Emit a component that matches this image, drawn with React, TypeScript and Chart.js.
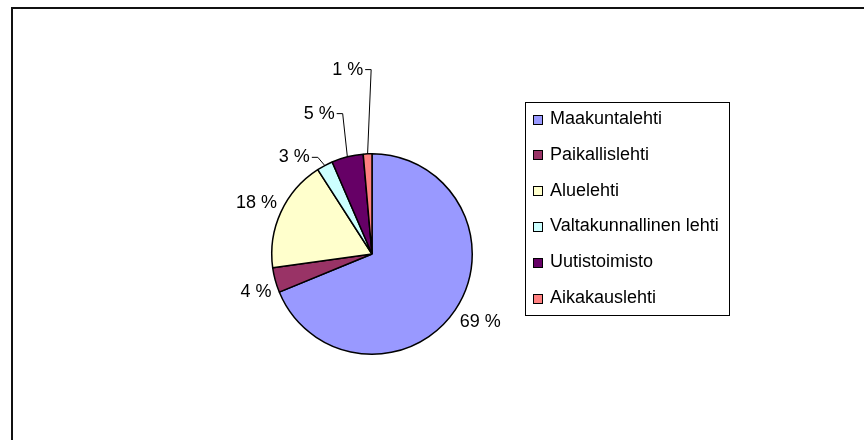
import React, { useEffect, useRef } from "react";
import { Chart, registerables } from "chart.js";

Chart.register(...registerables);

// ---- data ----
const categories = [
  "Maakuntalehti",
  "Paikallislehti",
  "Aluelehti",
  "Valtakunnallinen lehti",
  "Uutistoimisto",
  "Aikakauslehti",
];
const shares = [68.8, 4.0, 18.1, 2.6, 5.1, 1.4];
const sliceColors = ["#9999FF", "#993366", "#FFFFCC", "#CCFFFF", "#660066", "#FF8080"];

// ---- label placement (style) ----
const labelDistance = [128, 122, 126, 124, 150, 186];
const labelAngleShift = [-1.6, -3, -1, -10.7, -6.4, -5];
const labelLeader = [false, false, false, true, true, true];

const FONT = '18px "Liberation Sans", Arial, sans-serif';

const LEG = {
  left: 525,
  top: 102,
  right: 729,
  bottom: 315,
  rowStart: 119,
  rowGap: 35.8,
  markerX: 533,
  marker: 9,
  textX: 550,
};

const pctLabels = {
  id: "pctLabels",
  afterDatasetsDraw(chart: any) {
    const ctx = chart.ctx as CanvasRenderingContext2D;
    const meta = chart.getDatasetMeta(0);
    const data = chart.data.datasets[0].data as number[];
    const total = data.reduce((a, b) => a + b, 0);
    ctx.save();
    ctx.font = FONT;
    ctx.fillStyle = "#000";
    ctx.textBaseline = "middle";
    ctx.textAlign = "center";
    meta.data.forEach((el: any, i: number) => {
      const { x, y, startAngle, endAngle, outerRadius } = el.getProps(
        ["x", "y", "startAngle", "endAngle", "outerRadius"],
        true
      );
      const mid = (startAngle + endAngle) / 2;
      const a = mid + (labelAngleShift[i] * Math.PI) / 180;
      const d = labelDistance[i];
      const lx = x + d * Math.cos(a);
      const ly = y + d * Math.sin(a);
      const text = Math.round((data[i] / total) * 100) + " %";
      ctx.fillText(text, lx, ly);
      if (labelLeader[i]) {
        const w = ctx.measureText(text).width;
        const sx = lx + w / 2 + 2;
        const ex = x + outerRadius * Math.cos(mid);
        const ey = y + outerRadius * Math.sin(mid);
        ctx.beginPath();
        ctx.moveTo(sx, ly);
        ctx.lineTo(sx + 6, ly);
        ctx.lineTo(ex, ey);
        ctx.strokeStyle = "#000";
        ctx.lineWidth = 1;
        ctx.stroke();
      }
    });
    ctx.restore();
  },
};

const boxLegend = {
  id: "boxLegend",
  afterDraw(chart: any) {
    const ctx = chart.ctx as CanvasRenderingContext2D;
    const labels = chart.data.labels as string[];
    const colors = chart.data.datasets[0].backgroundColor as string[];
    ctx.save();
    ctx.strokeStyle = "#000";
    ctx.lineWidth = 1;
    ctx.strokeRect(LEG.left + 0.5, LEG.top + 0.5, LEG.right - LEG.left, LEG.bottom - LEG.top);
    ctx.font = FONT;
    ctx.textBaseline = "middle";
    ctx.textAlign = "left";
    labels.forEach((lab, i) => {
      const cy = LEG.rowStart + i * LEG.rowGap;
      const my = Math.round(cy - LEG.marker / 2) + 0.5;
      ctx.fillStyle = colors[i];
      ctx.fillRect(LEG.markerX + 0.5, my, LEG.marker, LEG.marker);
      ctx.strokeRect(LEG.markerX + 0.5, my, LEG.marker, LEG.marker);
      ctx.fillStyle = "#000";
      ctx.fillText(lab, LEG.textX, cy);
    });
    ctx.restore();
  },
};

export default function App() {
  const ref = useRef<HTMLCanvasElement | null>(null);
  useEffect(() => {
    if (!ref.current) return;
    const chart = new Chart(ref.current, {
      type: "pie",
      data: {
        labels: categories,
        datasets: [
          {
            data: shares,
            backgroundColor: sliceColors,
            borderColor: "#000",
            borderWidth: 1.5,
          },
        ],
      },
      options: {
        responsive: false,
        animation: false,
        events: [],
        layout: { padding: { left: 271, right: 391, top: 153, bottom: 85 } },
        plugins: {
          legend: { display: false },
          tooltip: { enabled: false },
        },
      },
      plugins: [pctLabels, boxLegend],
    });
    return () => chart.destroy();
  }, []);

  return (
    <div
      style={{
        position: "absolute",
        left: 0,
        top: 0,
        width: 864,
        height: 440,
        overflow: "hidden",
        background: "#fff",
      }}
    >
      <div
        style={{
          position: "absolute",
          left: 11,
          top: 7,
          width: 900,
          height: 500,
          borderLeft: "2px solid #111",
          borderTop: "2px solid #111",
        }}
      />
      <canvas
        ref={ref}
        width={864}
        height={440}
        style={{ position: "absolute", left: 0, top: 0, width: 864, height: 440 }}
      />
    </div>
  );
}
